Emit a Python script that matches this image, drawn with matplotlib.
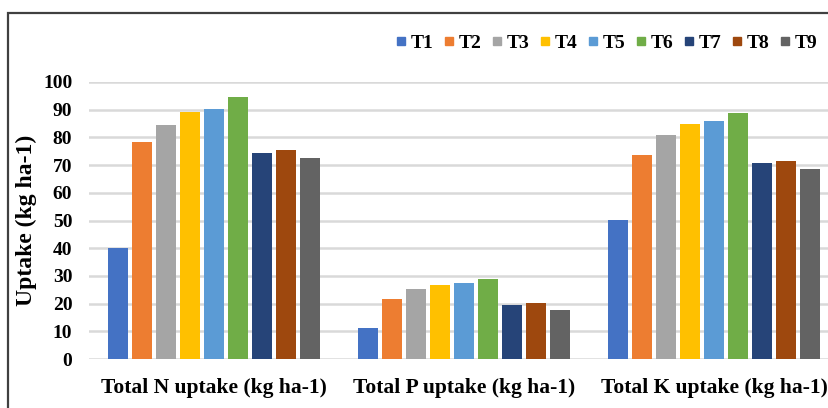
import numpy as np
import matplotlib
matplotlib.use('Agg')
import matplotlib.pyplot as plt
from matplotlib.patches import Rectangle
from matplotlib.lines import Line2D

categories = ['Total N uptake (kg ha-1)', 'Total P uptake (kg ha-1)', 'Total K uptake (kg ha-1)']
treatments = ['T1', 'T2', 'T3', 'T4', 'T5', 'T6', 'T7', 'T8', 'T9']
n_uptake = [40.0, 78.4, 84.6, 89.3, 90.2, 94.7, 74.4, 75.5, 72.4]
p_uptake = [11.3, 21.8, 25.3, 26.7, 27.3, 28.8, 19.5, 20.1, 17.7]
k_uptake = [50.1, 73.7, 80.7, 84.8, 86.0, 88.8, 70.7, 71.5, 68.7]

colors = ['#4472C4', '#ED7D31', '#A5A5A5', '#FFC000', '#5B9BD5',
          '#70AD47', '#264478', '#9E480E', '#636363']

plt.rcParams['font.family'] = ['Liberation Serif', 'DejaVu Serif']
plt.rcParams['font.weight'] = 'bold'

W, H = 829, 408
fig = plt.figure(figsize=(W / 100, H / 100), dpi=100)

# outer chart border (right and bottom edges are cut off in the original)
fig.patches.append(Rectangle((8 / W, -0.05), 1.2, 1 - 13 / H + 0.05,
                             transform=fig.transFigure, fill=False,
                             edgecolor='#404040', linewidth=1.6, zorder=0))

ax = fig.add_axes([89 / W, 1 - 359 / H, 750 / W, (359 - 82) / H])

values = np.array([n_uptake, p_uptake, k_uptake])
x = np.arange(len(categories))
pitch = 24 / 250
width = 19.5 / 250
for i, t in enumerate(treatments):
    offs = (i - 4) * pitch
    ax.bar(x + offs, values[:, i], width=width, color=colors[i], label=t, zorder=3)

ax.set_xlim(-0.5, 2.5)
ax.set_ylim(0, 100)
ax.set_yticks(range(0, 101, 10))
ax.yaxis.grid(True, color='#d9d9d9', linewidth=1.8, zorder=0)
ax.set_axisbelow(True)
for s in ax.spines.values():
    s.set_visible(False)
ax.tick_params(axis='both', length=0)
ax.tick_params(axis='y', labelsize=14, pad=12)
ax.set_xticks(x)
ax.set_xticklabels(categories, fontsize=15.5, fontweight='bold')
ax.tick_params(axis='x', pad=14)
ax.set_ylabel('Uptake (kg ha-1)', fontsize=17, fontweight='bold')
ax.yaxis.set_label_coords(-0.069, 0.5)

handles = [Line2D([], [], marker='s', linestyle='none', markersize=5.5,
                  markerfacecolor=c, markeredgecolor=c) for c in colors]
fig.legend(handles, treatments, loc='center', bbox_to_anchor=(607 / W, 1 - 43 / H),
           ncol=9, frameon=False, fontsize=14, handletextpad=0.25,
           columnspacing=0.55, handlelength=0.5, borderpad=0, borderaxespad=0)

fig.savefig('out.png', dpi=100)
